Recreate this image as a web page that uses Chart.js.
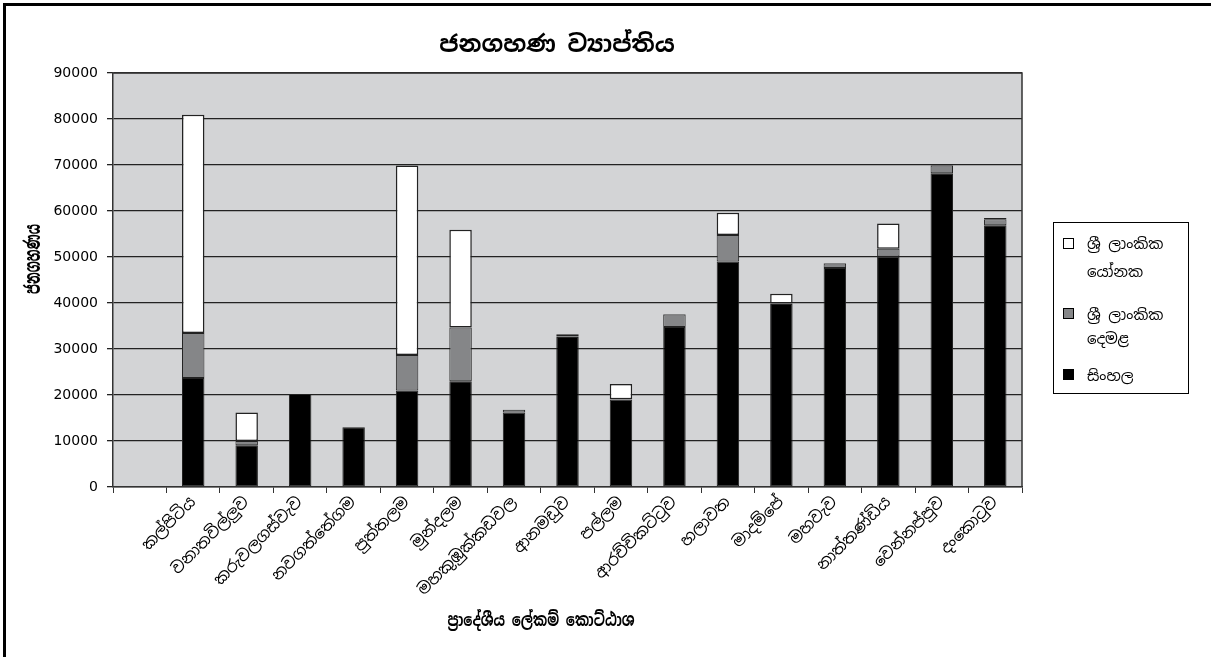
<!DOCTYPE html>
<html>
<head>
<meta charset="utf-8">
<script src="https://cdn.jsdelivr.net/npm/chart.js@4.4.1/dist/chart.umd.min.js"></script>
<style>
  html, body { margin: 0; padding: 0; background: #fff; width: 1211px; height: 657px; overflow: hidden; }
  #wrap { position: relative; width: 1211px; height: 657px; }
  #frame { position: absolute; left: 3px; top: 3px; width: 1300px; height: 800px; border: 3px solid #000; box-sizing: border-box; pointer-events: none; }
  canvas { position: absolute; left: 0; top: 0; }
  .txt { position: absolute; font-family: "Noto Sans Sinhala", "Iskoola Pota", "Noto Sans", sans-serif; color: #000; white-space: nowrap; }
  #title { left: 557px; top: 43px; transform: translate(-50%, -50%); font-size: 23.5px; font-weight: bold; }
  #xtitle { left: 541px; top: 620px; transform: translate(-50%, -50%) scale(1, 1.3); font-size: 13.5px; font-weight: bold; }
  #ytitle { left: 33px; top: 259px; transform: translate(-50%, -50%) rotate(-90deg) scale(1, 1.8); font-size: 12px; font-weight: bold; }
  #legend { position: absolute; left: 1053px; top: 222px; width: 136px; height: 172px; border: 1px solid #000; box-sizing: border-box; background: #fff; }
  .sw { position: absolute; width: 11px; height: 11px; border: 1px solid #000; box-sizing: border-box; }
  .lt { position: absolute; font-size: 15px; font-family: "Noto Sans Sinhala", "Iskoola Pota", "Noto Sans", sans-serif; white-space: nowrap; transform: translateY(-50%); }
</style>
</head>
<body>
<div id="wrap">
  <canvas id="c" width="1211" height="657"></canvas>
  <div id="frame"></div>
  <div id="title" class="txt">ජනගහණ ව්‍යාප්තිය</div>
  <div id="xtitle" class="txt">ප්‍රාදේශීය ලේකම් කොට්ඨාශ</div>
  <div id="ytitle" class="txt">ජනගහණය</div>
  <div id="legend"></div>
</div>
<script>
// ---- data ----
const categories = ["", "කල්පිටිය", "වනාතවිල්ලුව", "කරුවලගස්වැව", "නවගත්තේගම", "පුත්තලම", "මුන්දලම", "මහකුඹුක්කඩවල", "ආනමඩුව", "පල්ලම", "ආරච්චිකට්ටුව", "හලාවත", "මාදම්පේ", "මහවැව", "නාත්තණ්ඩිය", "වෙන්නප්පුව", "දංකොටුව"];
const sinhala = [null, 23700, 9100, 20200, 13000, 21000, 23000, 16200, 32600, 19000, 34800, 49000, 39800, 47600, 50100, 68200, 56900];
const tamil   = [null, 9800, 900, 0, 0, 7700, 11700, 600, 100, 100, 2700, 5800, 100, 1000, 1700, 1700, 1300];
const muslim  = [null, 47400, 6200, 0, 0, 41200, 21200, 0, 500, 3300, 100, 4800, 2100, 100, 5500, 100, 300];
const seriesNames = ["සිංහල", "ශ්‍රී ලාංකික දෙමළ", "ශ්‍රී ලාංකික යෝනක"];
const legendLines = [["සිංහල"], ["ශ්‍රී ලාංකික", "දෙමළ"], ["ශ්‍රී ලාංකික", "යෝනක"]];
const yTicks = [0, 10000, 20000, 30000, 40000, 50000, 60000, 70000, 80000, 90000];
const colors = ["#000000", "#858688", "#ffffff"];

const sinFont = "'Noto Sans Sinhala', 'Iskoola Pota', 'Noto Sans', sans-serif";

const plotBg = {
  id: 'plotBg',
  beforeDraw(chart) {
    const a = chart.chartArea, ctx = chart.ctx;
    ctx.save();
    ctx.fillStyle = '#d3d4d6';
    ctx.fillRect(a.left, a.top, a.right - a.left, a.bottom - a.top);
    ctx.restore();
  },
  afterDatasetsDraw(chart) {
    const a = chart.chartArea, ctx = chart.ctx;
    ctx.save();
    ctx.strokeStyle = '#333';
    ctx.lineWidth = 1.5;
    ctx.beginPath();
    ctx.moveTo(a.left, a.top);
    ctx.lineTo(a.right, a.top);
    ctx.lineTo(a.right, a.bottom);
    ctx.stroke();
    ctx.restore();
  }
};

new Chart(document.getElementById('c'), {
  type: 'bar',
  data: {
    labels: categories,
    datasets: [
      { label: seriesNames[0], data: sinhala, backgroundColor: colors[0], borderColor: '#222', borderWidth: 1, borderSkipped: false },
      { label: seriesNames[1], data: tamil, backgroundColor: colors[1], borderColor: '#222', borderWidth: 1, borderSkipped: false },
      { label: seriesNames[2], data: muslim, backgroundColor: colors[2], borderColor: '#222', borderWidth: 1.5, borderSkipped: false }
    ]
  },
  options: {
    responsive: false,
    animation: false,
    devicePixelRatio: 1,
    layout: { padding: { left: 0, right: 189, top: 73, bottom: 0 } },
    plugins: { legend: { display: false }, title: { display: false }, tooltip: { enabled: false } },
    datasets: { bar: { categoryPercentage: 1.0, barPercentage: 0.42 } },
    scales: {
      x: {
        stacked: true,
        offset: true,
        grid: { display: true, drawOnChartArea: false, drawTicks: true, tickLength: 6, offset: true, color: '#333', lineWidth: 1 },
        border: { display: true, color: '#333', width: 1.5 },
        ticks: { autoSkip: false, minRotation: 45, maxRotation: 45, color: '#000', padding: 0, font: { family: sinFont, size: 16 } },
        afterFit(scale) { scale.height = 170; }
      },
      y: {
        stacked: true,
        min: 0, max: 90000,
        afterBuildTicks(scale) { scale.ticks = yTicks.map(v => ({ value: v })); },
        grid: { color: '#222', lineWidth: 1.3, tickLength: 6, drawTicks: true },
        border: { display: true, color: '#333', width: 1.5 },
        ticks: { color: '#000', padding: 9, font: { family: "'DejaVu Sans', Verdana, sans-serif", size: 14 },
                 callback: (v) => String(v) },
        afterFit(scale) { scale.width = 113; }
      }
    }
  },
  plugins: [plotBg]
});

// HTML legend (order as in reference: yonaka, demala, sinhala)
const lg = document.getElementById('legend');
const order = [2, 1, 0];
const swTop = [15, 85, 146];
const lineTops = [[20, 48], [91, 115], [152]];
order.forEach((si, k) => {
  const sw = document.createElement('div');
  sw.className = 'sw';
  sw.style.left = '9px';
  sw.style.top = swTop[k] + 'px';
  sw.style.background = colors[si];
  lg.appendChild(sw);
  legendLines[si].forEach((t, j) => {
    const d = document.createElement('div');
    d.className = 'lt';
    d.style.left = '33px';
    d.style.top = lineTops[k][j] + 'px';
    d.textContent = t;
    lg.appendChild(d);
  });
});
</script>
</body>
</html>
